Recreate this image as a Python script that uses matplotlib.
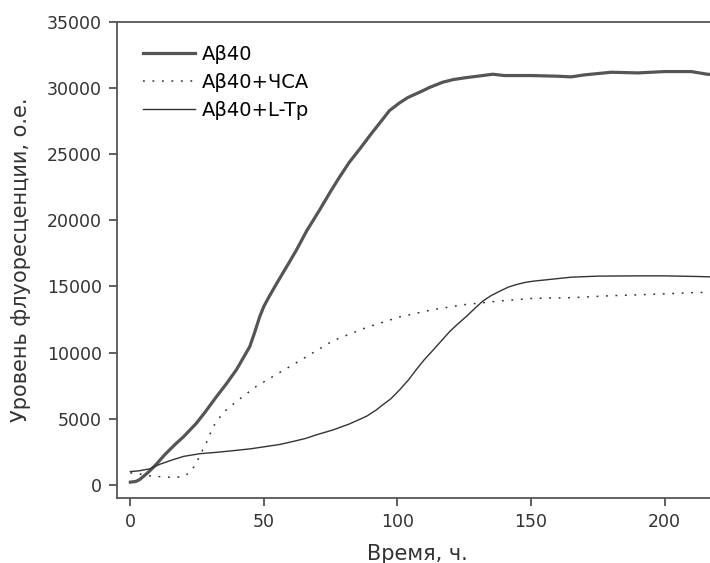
import numpy as np
import matplotlib
matplotlib.use('Agg')
import matplotlib.pyplot as plt

plt.rcParams.update({'font.family': ['DejaVu Sans']})
plt.rcParams.update({'font.size': 12})

# A-beta 40 alone (thick line)
t_ab = [0, 2, 3.4, 5, 7, 9.7, 13, 17, 20, 24.7, 28, 32, 36, 39.7, 42, 44.7, 46.5, 48.4,
        50, 52, 55, 57.2, 60, 62.3, 66, 70.9, 75, 78.4, 82, 85.9, 90, 94.5, 97, 100.9,
        104, 108.4, 112, 117, 121, 126, 130, 135.7, 140, 150, 160, 165, 170, 180, 190,
        200, 210, 216, 220]
v_ab = [200, 250, 380, 650, 1000, 1550, 2300, 3100, 3650, 4650, 5500, 6600, 7650, 8700,
        9500, 10450, 11500, 12700, 13500, 14250, 15300, 16050, 17000, 17800, 19200, 20800,
        22200, 23300, 24400, 25400, 26500, 27650, 28300, 28900, 29300, 29700, 30050, 30450,
        30650, 30800, 30900, 31050, 30950, 30950, 30900, 30850, 31000, 31200, 31150, 31250,
        31250, 31050, 31000]

# A-beta 40 + HSA (dotted)
t_hsa = [0, 4, 7.2, 12, 16, 19, 21, 23, 24.7, 26.5, 28.5, 31, 34.7, 39.7, 47.2, 54.7,
         62.3, 68.5, 75.9, 88.4, 100.9, 113.4, 126, 138.4, 150.9, 165, 180, 195, 213, 220]
v_hsa = [900, 800, 680, 600, 550, 600, 750, 1100, 1650, 2400, 3200, 4400, 5450, 6300,
         7450, 8350, 9250, 10000, 10900, 11900, 12700, 13250, 13650, 13900, 14100, 14150,
         14300, 14400, 14550, 14500]

# A-beta 40 + L-Tp (thin solid)
t_ltp = [0, 3, 7.2, 11, 16, 20, 26, 32, 38.5, 45, 51, 56, 61, 65.5, 69.7, 75.9, 82, 88.4,
         92, 94.5, 97.5, 100.9, 104, 107, 110, 113.4, 116.5, 119.6, 122.8, 125.9, 129, 132,
         135, 138.4, 141.5, 144.6, 147.7, 150.9, 157, 165, 175, 190, 200, 213, 220]
v_ltp = [1000, 1050, 1200, 1550, 1900, 2150, 2350, 2450, 2580, 2720, 2900, 3050, 3280,
         3500, 3780, 4150, 4600, 5180, 5650, 6050, 6500, 7200, 7900, 8700, 9450, 10200,
         10900, 11600, 12200, 12750, 13350, 13900, 14300, 14650, 14950, 15150, 15300, 15400,
         15530, 15700, 15780, 15800, 15800, 15750, 15700]

labels = ['A\u03b240', 'A\u03b240+\u0427\u0421\u0410', 'A\u03b240+L-Tp']

fig = plt.figure(figsize=(7.1, 5.63), dpi=100, facecolor='w')
ax = fig.add_axes([117/710, 65/563, 601/710, 476/563])

ax.plot(t_ab, v_ab, color='#555555', linewidth=2.3, label=labels[0])
ax.plot(t_hsa, v_hsa, color='#333333', linewidth=1.1, linestyle=(0, (1.2, 5.0)), label=labels[1])
ax.plot(t_ltp, v_ltp, color='#333333', linewidth=1.0, label=labels[2])

ax.set_xlim(-5, 220)
ax.set_ylim(-1000, 35000)
ax.set_xticks([0, 50, 100, 150, 200])
ax.set_yticks(np.arange(0, 35001, 5000))
ax.tick_params(direction='out', length=6, width=1.2, colors='#444444', labelcolor='#333333',
               labelsize=12.5, pad=5)
for s in ax.spines.values():
    s.set_color('#555555')
    s.set_linewidth(1.3)

ax.set_xlabel('\u0412\u0440\u0435\u043c\u044f, \u0447.', fontsize=15, color='#333333', labelpad=9)
ax.set_ylabel('\u0423\u0440\u043e\u0432\u0435\u043d\u044c \u0444\u043b\u0443\u043e\u0440\u0435\u0441\u0446\u0435\u043d\u0446\u0438\u0438, \u043e.\u0435.',
              fontsize=15, color='#333333', labelpad=11)

ax.legend(loc='upper left', frameon=False, fontsize=14, handlelength=2.7, handletextpad=0.35,
          labelspacing=0.45, borderaxespad=0.3, bbox_to_anchor=(0.02, 0.98))

plt.savefig('out.png', dpi=100)
